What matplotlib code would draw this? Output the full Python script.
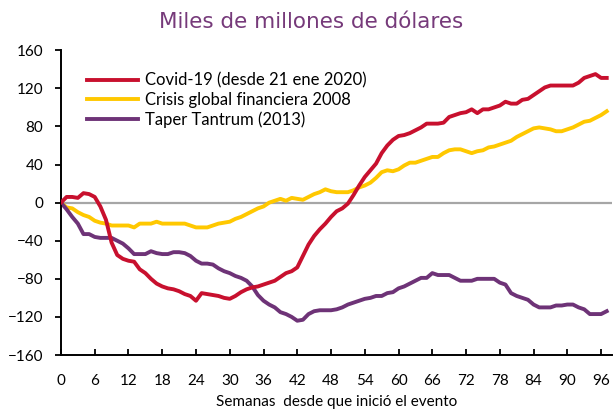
import numpy as np
import matplotlib
matplotlib.use('Agg')
import matplotlib.pyplot as plt

plt.rcParams['font.family'] = ['Lato', 'DejaVu Sans']

""" Data (weeks since the event started) """
semanas = np.arange(98)

covid = [0, 6, 6, 5, 10, 9, 6, -4, -18, -42,
         -55, -59, -61, -62, -70, -74, -80, -85, -88, -90,
         -91, -93, -96, -98, -103, -95, -96, -97, -98, -100,
         -101, -98, -94, -91, -89, -88, -86, -84, -82, -78,
         -74, -72, -68, -56, -44, -35, -28, -22, -15, -9,
         -6, -1, 8, 18, 27, 34, 41, 52, 60, 66,
         70, 71, 73, 76, 79, 83, 83, 83, 84, 90,
         92, 94, 95, 98, 94, 98, 98, 100, 102, 106,
         104, 104, 108, 109, 113, 117, 121, 123, 123, 123,
         123, 123, 126, 131, 133, 135, 131, 131]

crisis_2008 = [0, -5, -6, -10, -13, -15, -19, -21, -22, -24,
               -24, -24, -24, -26, -22, -22, -22, -20, -22, -22,
               -22, -22, -22, -24, -26, -26, -26, -24, -22, -21,
               -20, -17, -15, -12, -9, -6, -4, 0, 2, 4,
               2, 5, 4, 3, 6, 9, 11, 14, 12, 11,
               11, 11, 13, 16, 18, 21, 26, 32, 34, 33,
               35, 39, 42, 42, 44, 46, 48, 48, 52, 55,
               56, 56, 54, 52, 54, 55, 58, 59, 61, 63,
               65, 69, 72, 75, 78, 79, 78, 77, 75, 75,
               77, 79, 82, 85, 86, 89, 92, 96]

taper_2013 = [0, -7, -15, -22, -33, -33, -36, -37, -37, -37,
              -40, -43, -48, -54, -54, -54, -51, -53, -54, -54,
              -52, -52, -53, -56, -61, -64, -64, -65, -69, -72,
              -74, -77, -79, -82, -88, -97, -103, -107, -110, -115,
              -117, -120, -124, -123, -117, -114, -113, -113, -113, -112,
              -110, -107, -105, -103, -101, -100, -98, -98, -95, -94,
              -90, -88, -85, -82, -79, -79, -74, -76, -76, -76,
              -79, -82, -82, -82, -80, -80, -80, -80, -84, -86,
              -95, -98, -100, -102, -107, -110, -110, -110, -108, -108,
              -107, -107, -110, -112, -117, -117, -117, -114]

etiquetas = ['Covid-19 (desde 21 ene 2020)',
             'Crisis global financiera 2008',
             'Taper Tantrum (2013)']

x_ticks = np.arange(0, 97, 6)
y_ticks = np.arange(-160, 161, 40)

"""
Setup graphic:
"""
fig = plt.figure(figsize=(6.14, 4.09), dpi=100)
ax = fig.add_axes([0.0993, 0.132, 0.898, 0.745])

ax.axhline(0, color='#a6a6a6', lw=1.6, zorder=1)
ax.plot(semanas, covid, color='#c8102e', lw=2.8, label=etiquetas[0], zorder=3)
ax.plot(semanas, crisis_2008, color='#ffc800', lw=2.8, label=etiquetas[1], zorder=2)
ax.plot(semanas, taper_2013, color='#6e3377', lw=2.8, label=etiquetas[2], zorder=2)

ax.set_xlim(0, 98)
ax.set_ylim(-160, 160)
ax.set_xticks(x_ticks)
ax.set_yticks(y_ticks)
ax.tick_params(axis='x', direction='in', length=4.5, width=1.3, labelsize=11, pad=14)
ax.tick_params(axis='y', direction='out', length=4.3, width=1.3, labelsize=11, pad=8.5)

for s in ['top', 'right']:
    ax.spines[s].set_visible(False)
for s in ['left', 'bottom']:
    ax.spines[s].set_linewidth(1.4)
    ax.spines[s].set_color('black')

ax.set_xlabel('Semanas  desde que inició el evento', fontsize=11, labelpad=4.5)
fig.text(0.507, 0.947, 'Miles de millones de dólares', ha='center', va='center',
         fontsize=15.5, color='#763a7a', family='DejaVu Sans')

ax.legend(loc='upper left', bbox_to_anchor=(0.035, 0.95), frameon=False,
          fontsize=12, handlelength=3.05, handletextpad=0.42, labelspacing=0.2,
          borderaxespad=0)

fig.savefig('out.png', dpi=100)
